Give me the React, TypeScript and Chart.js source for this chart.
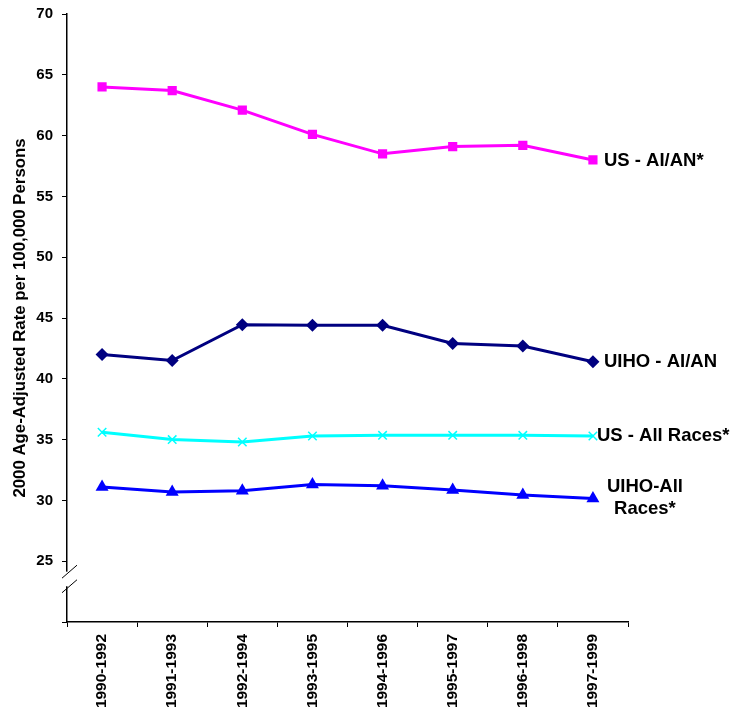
import React, { useEffect, useRef } from "react";
import { Chart, registerables } from "chart.js";

Chart.register(...registerables);

const categories = ["1990-1992", "1991-1993", "1992-1994", "1993-1995", "1994-1996", "1995-1997", "1996-1998", "1997-1999"];
const usAian = [64.0, 63.7, 62.1, 60.1, 58.5, 59.1, 59.2, 58.0];
const uihoAian = [42.0, 41.5, 44.45, 44.4, 44.4, 42.9, 42.7, 41.4];
const usAllRaces = [35.6, 35.0, 34.8, 35.3, 35.35, 35.35, 35.35, 35.3];
const uihoAllRaces = [31.1, 30.7, 30.8, 31.3, 31.2, 30.85, 30.45, 30.15];
const seriesNames = ["US - AI/AN*", "UIHO - AI/AN", "US - All Races*", "UIHO-All\nRaces*"];
const yTitle = "2000 Age-Adjusted Rate per 100,000 Persons";
const yMin = 20;
const yMax = 70;
const yStep = 5;
const breakValues = [24.14, 22.94];

const FONT = "'Liberation Sans', Arial, sans-serif";

const endLabelPlugin = {
  id: "endLabels",
  afterDatasetsDraw(chart: any) {
    const ctx = chart.ctx;
    ctx.save();
    ctx.font = `bold 18.5px ${FONT}`;
    ctx.fillStyle = "#000";
    ctx.textBaseline = "middle";
    chart.data.datasets.forEach((ds: any, i: number) => {
      const meta = chart.getDatasetMeta(i);
      const pt = meta.data[meta.data.length - 1];
      if (!pt) return;
      const lines = String(ds.endLabel).split("\n");
      if (lines.length === 1) {
        ctx.textAlign = "left";
        ctx.fillText(lines[0], pt.x + ds.labelDx, pt.y + ds.labelDy);
      } else {
        ctx.textAlign = "center";
        lines.forEach((ln: string, k: number) => {
          ctx.fillText(ln, pt.x + ds.labelDx, pt.y + ds.labelDy + k * 22);
        });
      }
    });
    ctx.restore();
  },
};

const breakPlugin = {
  id: "axisBreak",
  afterDraw(chart: any) {
    const ctx = chart.ctx;
    const ys = chart.scales.y;
    const x = ys.right;
    const c1 = ys.getPixelForValue(breakValues[0]);
    const c2 = ys.getPixelForValue(breakValues[1]);
    ctx.save();
    ctx.fillStyle = "#fff";
    ctx.fillRect(x - 2, c1, 4, c2 - c1);
    ctx.strokeStyle = "#000";
    ctx.lineWidth = 1;
    [c1, c2].forEach((c) => {
      ctx.beginPath();
      ctx.moveTo(x - 5, c + 6.5);
      ctx.lineTo(x + 10, c - 6.5);
      ctx.stroke();
    });
    ctx.restore();
  },
};

export default function App() {
  const ref = useRef<HTMLCanvasElement | null>(null);
  useEffect(() => {
    if (!ref.current) return;
    const chart = new Chart(ref.current, {
      type: "line",
      data: {
        labels: categories,
        datasets: [
          {
            label: seriesNames[0],
            data: usAian,
            borderColor: "#FF00FF",
            backgroundColor: "#FF00FF",
            borderWidth: 3,
            pointStyle: "rect",
            pointRadius: 6.5,
            pointBorderWidth: 0,
            endLabel: seriesNames[0],
            labelDx: 11,
            labelDy: 1,
          } as any,
          {
            label: seriesNames[1],
            data: uihoAian,
            borderColor: "#000080",
            backgroundColor: "#000080",
            borderWidth: 3,
            pointStyle: "rectRot",
            pointRadius: 6.5,
            pointBorderWidth: 0,
            endLabel: seriesNames[1],
            labelDx: 11,
            labelDy: 0,
          } as any,
          {
            label: seriesNames[2],
            data: usAllRaces,
            borderColor: "#00FFFF",
            backgroundColor: "#00FFFF",
            borderWidth: 3,
            pointStyle: "crossRot",
            pointRadius: 6,
            pointBorderWidth: 1.5,
            endLabel: seriesNames[2],
            labelDx: 4,
            labelDy: 0,
          } as any,
          {
            label: seriesNames[3],
            data: uihoAllRaces,
            borderColor: "#0000FF",
            backgroundColor: "#0000FF",
            borderWidth: 3,
            pointStyle: "triangle",
            pointRadius: 7.5,
            pointBorderWidth: 0,
            endLabel: seriesNames[3],
            labelDx: 52,
            labelDy: -12,
          } as any,
        ],
      },
      options: {
        animation: false,
        responsive: false,
        layout: { padding: { top: 6, right: 109, left: 0, bottom: 0 } },
        plugins: {
          legend: { display: false },
          tooltip: { enabled: false },
        },
        scales: {
          x: {
            type: "category",
            offset: true,
            grid: { offset: true, drawOnChartArea: false, drawTicks: true, tickLength: 5, color: "#000", lineWidth: 1 },
            border: { color: "#000", width: 1.5 },
            ticks: {
              color: "#000",
              font: { family: FONT, size: 15.5, weight: "bold" },
              minRotation: 90,
              maxRotation: 90,
              padding: 7,
              autoSkip: false,
            },
            afterFit(scale: any) {
              scale.height = 95;
            },
          },
          y: {
            min: yMin,
            max: yMax,
            grid: { drawOnChartArea: false, drawTicks: true, tickLength: 5, color: "#000", lineWidth: 1 },
            border: { color: "#000", width: 1.5 },
            ticks: {
              stepSize: yStep,
              color: "#000",
              font: { family: FONT, size: 15, weight: "bold" },
              padding: 9,
              callback: (v: any) => (Number(v) === yMin ? "" : String(v)),
            },
            title: {
              display: true,
              text: yTitle,
              color: "#000",
              font: { family: FONT, size: 16.8, weight: "bold" },
              padding: { top: 2, bottom: 2 },
            },
            afterFit(scale: any) {
              scale.width = 59;
            },
          },
        },
      },
      plugins: [endLabelPlugin, breakPlugin],
    });
    return () => chart.destroy();
  }, []);
  return (
    <div style={{ width: 729, height: 709, overflow: "hidden" }}>
      <canvas ref={ref} width={729} height={721} style={{ display: "block", marginTop: -12 }} />
    </div>
  );
}
